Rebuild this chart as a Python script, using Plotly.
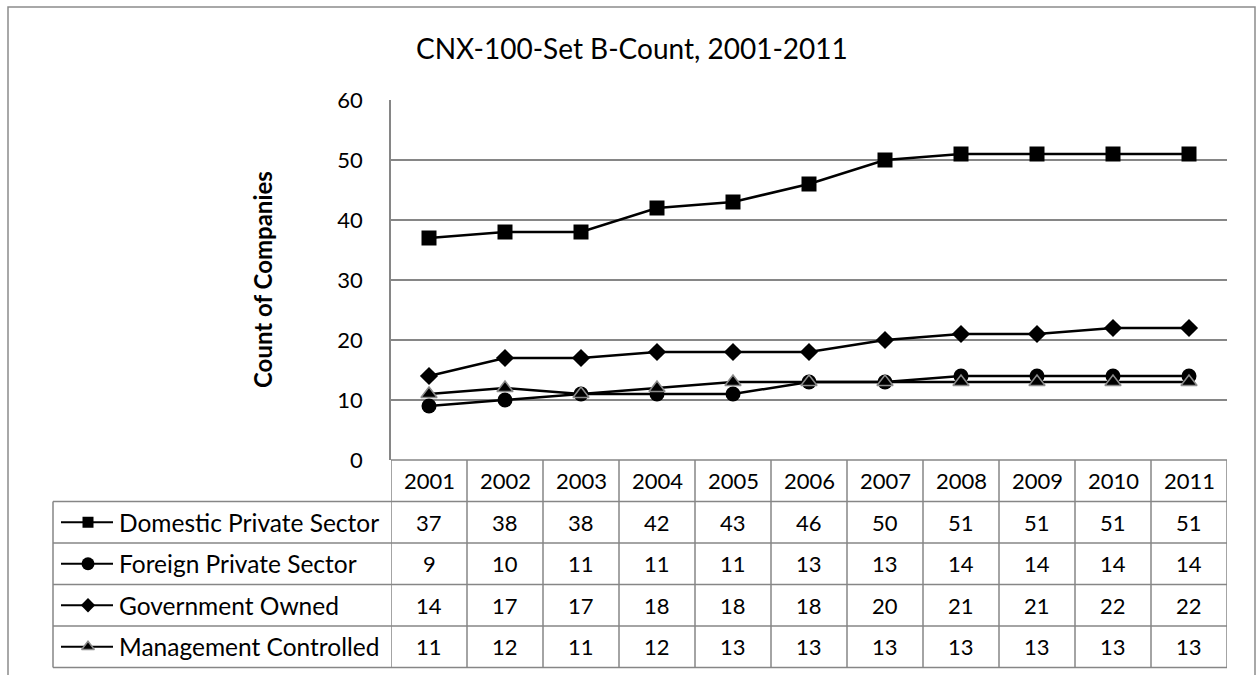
import plotly.graph_objects as go

# ---------------- data ----------------
years = ["2001", "2002", "2003", "2004", "2005", "2006", "2007", "2008", "2009", "2010", "2011"]
domestic_private = [37, 38, 38, 42, 43, 46, 50, 51, 51, 51, 51]
foreign_private = [9, 10, 11, 11, 11, 13, 13, 14, 14, 14, 14]
government_owned = [14, 17, 17, 18, 18, 18, 20, 21, 21, 22, 22]
management_controlled = [11, 12, 11, 12, 13, 13, 13, 13, 13, 13, 13]
series_names = ["Domestic Private Sector", "Foreign Private Sector",
                "Government Owned", "Management Controlled"]
y_tick_values = [0, 10, 20, 30, 40, 50, 60]
chart_title = "CNX-100-Set B-Count, 2001-2011"
y_axis_title = "Count of Companies"

# ---------------- styles ----------------
W, H = 1257, 675
FONT = "Lato, 'Open Sans', sans-serif"
GRID = "#868686"
TXT = "#000000"
series_values = [domestic_private, foreign_private, government_owned, management_controlled]
marker_styles = [
    dict(symbol="square", size=15, color="black", line=dict(width=0)),
    dict(symbol="circle", size=15, color="black", line=dict(width=0)),
    dict(symbol="diamond", size=14, color="black", line=dict(width=0)),
    dict(symbol="triangle-up", size=14, color="black", line=dict(width=1.5, color="#8c8c8c")),
]
key_marker_styles = [
    dict(symbol="square", size=11, color="black", line=dict(width=0)),
    dict(symbol="circle", size=13, color="black", line=dict(width=0)),
    dict(symbol="diamond", size=11, color="black", line=dict(width=0)),
    dict(symbol="triangle-up", size=11, color="black", line=dict(width=1.5, color="#8c8c8c")),
]

def px(x):
    return x / W

def py(y):
    return 1 - y / H

PLOT_L, PLOT_R, PLOT_T, PLOT_B = 391, 1227, 100, 460
TABLE_LEFT = 53
row_edges = [460, 501.5, 543, 584.5, 626, 667.5]
row_centers = [(row_edges[i] + row_edges[i + 1]) / 2 for i in range(5)]

x_idx = list(range(len(years)))

fig = go.Figure()

for name, vals, mk in zip(series_names, series_values, marker_styles):
    fig.add_trace(go.Scatter(
        x=x_idx, y=vals, name=name, mode="lines+markers",
        line=dict(color="black", width=2.5), marker=mk,
        showlegend=False, cliponaxis=False, hoverinfo="skip",
        xaxis="x", yaxis="y"))

# legend keys inside the data table (pixel-space axes)
for i, (name, mk) in enumerate(zip(series_names, key_marker_styles)):
    yc = row_centers[i + 1]
    fig.add_trace(go.Scatter(
        x=[61, 113], y=[yc, yc], mode="lines",
        line=dict(color="black", width=2.2), showlegend=False,
        hoverinfo="skip", xaxis="x2", yaxis="y2"))
    fig.add_trace(go.Scatter(
        x=[88], y=[yc], mode="markers", marker=mk, showlegend=False,
        hoverinfo="skip", xaxis="x2", yaxis="y2", cliponaxis=False))

shapes = []
line_style = dict(color=GRID, width=1.5)
shapes.append(dict(type="rect", xref="paper", yref="paper",
                   x0=px(8), x1=px(1255), y0=py(7), y1=py(700),
                   line=dict(color="#8c8c8c", width=1.5), fillcolor="rgba(0,0,0,0)",
                   layer="below"))
shapes.append(dict(type="line", xref="paper", yref="paper",
                   x0=px(PLOT_L), x1=px(PLOT_R), y0=py(row_edges[0]), y1=py(row_edges[0]),
                   line=line_style))
for ye in row_edges[1:]:
    shapes.append(dict(type="line", xref="paper", yref="paper",
                       x0=px(TABLE_LEFT), x1=px(PLOT_R), y0=py(ye), y1=py(ye),
                       line=line_style))
shapes.append(dict(type="line", xref="paper", yref="paper",
                   x0=px(TABLE_LEFT), x1=px(TABLE_LEFT), y0=py(row_edges[1]), y1=py(row_edges[-1]),
                   line=line_style))
for k in range(len(years) + 1):
    shapes.append(dict(type="line", xref="x", yref="paper",
                       x0=k - 0.5, x1=k - 0.5, y0=py(row_edges[0]), y1=py(row_edges[-1]),
                       line=line_style))

annotations = []
annotations.append(dict(text=chart_title, xref="paper", yref="paper",
                        x=px(632), y=py(48), xanchor="center", yanchor="middle",
                        showarrow=False, font=dict(family=FONT, size=28, color=TXT)))
annotations.append(dict(text="<b>" + y_axis_title + "</b>", xref="paper", yref="paper",
                        x=px(263), y=py(280), xanchor="center", yanchor="middle", textangle=-90,
                        showarrow=False, font=dict(family=FONT, size=24, color=TXT)))
for i, yr in enumerate(years):
    annotations.append(dict(text=yr, xref="x", yref="paper", x=i, y=py(row_centers[0]),
                            xanchor="center", yanchor="middle", showarrow=False,
                            font=dict(family=FONT, size=22, color=TXT)))
for r, (name, vals) in enumerate(zip(series_names, series_values)):
    yc = py(row_centers[r + 1])
    annotations.append(dict(text=name, xref="paper", yref="paper", x=px(117), y=yc,
                            xanchor="left", yanchor="middle", showarrow=False,
                            font=dict(family=FONT, size=24.5, color=TXT)))
    for i, v in enumerate(vals):
        annotations.append(dict(text=str(v), xref="x", yref="paper", x=i, y=yc,
                                xanchor="center", yanchor="middle", showarrow=False,
                                font=dict(family=FONT, size=22, color=TXT)))

fig.update_layout(
    width=W, height=H, autosize=False,
    margin=dict(l=0, r=0, t=0, b=0, pad=0, autoexpand=False),
    paper_bgcolor="white", plot_bgcolor="rgba(0,0,0,0)",
    font=dict(family=FONT, color=TXT),
    showlegend=False,
    xaxis=dict(domain=[px(PLOT_L), px(PLOT_R)], range=[-0.5, len(years) - 0.5],
               showgrid=False, zeroline=False, showticklabels=False, showline=False,
               anchor="y", fixedrange=True, automargin=False),
    yaxis=dict(domain=[py(PLOT_B), py(PLOT_T)], range=[0, 60], tickvals=y_tick_values,
               showgrid=True, gridcolor=GRID, gridwidth=1.5, zeroline=False,
               showline=True, linecolor=GRID, linewidth=1.5, ticks="",
               ticklabelstandoff=22, tickfont=dict(family=FONT, size=22, color=TXT),
               anchor="x", fixedrange=True, automargin=False),
    xaxis2=dict(domain=[0, 1], range=[0, W], visible=False, anchor="y2",
                fixedrange=True, automargin=False),
    yaxis2=dict(domain=[0, 1], range=[H, 0], visible=False, anchor="x2",
                fixedrange=True, automargin=False),
    shapes=shapes, annotations=annotations, hovermode=False,
)

fig.write_html("out.html", config=dict(displayModeBar=False),
               post_script="document.documentElement.style.margin='0';document.body.style.margin='0';document.body.style.overflow='hidden';document.documentElement.style.overflow='hidden';")
